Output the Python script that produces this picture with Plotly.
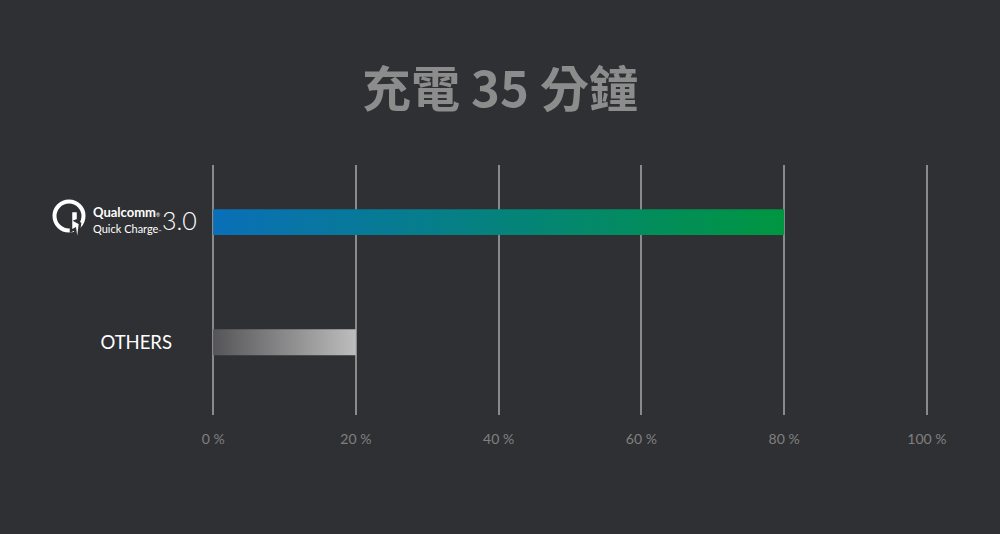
import plotly.graph_objects as go

# --------------------------------------------------
# data
# --------------------------------------------------
categories = ["Qualcomm Quick Charge 3.0", "OTHERS"]
values = [80, 20]
bar_scales = [
    [[0, "#0a6fb8"], [1, "#009640"]],
    [[0, "#555558"], [1, "#bdbdbd"]],
]
tick_vals = [0, 20, 40, 60, 80, 100]
tick_text = ["0 %", "20 %", "40 %", "60 %", "80 %", "100 %"]

BG = "#2f3033"
GRID = "#8a8a8a"

# plot area in pixels (x range padded by 0.3 units on both sides)
L, R, T, B = 211, 929, 165, 415


def px(x):
    return (x - L) / (R - L)


def py(y):
    return (B - y) / (B - T)


half = 0.108  # half bar thickness in y units

fig = go.Figure()

for i, (cat, v) in enumerate(zip(categories, values)):
    fig.add_trace(
        go.Scatter(
            x=[0, v, v, 0, 0],
            y=[i - half, i - half, i + half, i + half, i - half],
            mode="lines",
            fill="toself",
            fillgradient=dict(type="horizontal", colorscale=bar_scales[i]),
            line=dict(width=0),
            name=cat,
            hovertemplate=f"{cat}: {v} %<extra></extra>",
            showlegend=False,
        )
    )

# Qualcomm Quick Charge logo
bolt = "M {} {} L {} {} L {} {} L {} {} L {} {} L {} {} L {} {} L {} {} Z".format(
    px(71), py(211), px(78), py(211), px(78), py(220), px(75.5), py(221),
    px(80), py(223.5), px(77.3), py(245), px(75), py(229), px(71), py(231),
)
shapes = [
    dict(type="circle", xref="paper", yref="paper",
         x0=px(54.5), x1=px(83.5), y0=py(230.5), y1=py(201.5),
         line=dict(color="white", width=4)),
    dict(type="path", xref="paper", yref="paper", path=bolt,
         fillcolor="white", line=dict(color=BG, width=2.5)),
]

annotations = [
    dict(text="<b>Qualcomm</b><span style='font-size:5px'>®</span>", x=px(91), y=py(212),
         xref="paper", yref="paper", xanchor="left", yanchor="middle", showarrow=False,
         font=dict(family="Lato", size=13, color="white")),
    dict(text="Quick Charge<span style='font-size:4px'>™</span>", x=px(91), y=py(228),
         xref="paper", yref="paper", xanchor="left", yanchor="middle", showarrow=False,
         font=dict(family="Lato", size=11, color="white")),
    dict(text="3.0", x=px(160), y=py(220), xref="paper", yref="paper",
         xanchor="left", yanchor="middle", showarrow=False,
         font=dict(family="Lato", size=25, color="white", weight=300)),
]

fig.update_layout(
    width=1000,
    height=534,
    paper_bgcolor=BG,
    plot_bgcolor=BG,
    title=dict(
        text="充電 35 分鐘",
        x=0.5,
        xanchor="center",
        y=1 - 90 / 534,
        yanchor="middle",
        font=dict(family="Noto Sans CJK TC", size=49, color="#8c8c8c", weight=700),
    ),
    xaxis=dict(
        range=[-0.3, 100.3],
        tickvals=tick_vals,
        ticktext=tick_text,
        showgrid=True,
        gridcolor=GRID,
        gridwidth=1.5,
        zeroline=False,
        showline=False,
        ticklabelstandoff=14,
        tickfont=dict(family="Lato", size=14, color="#808080"),
        fixedrange=True,
    ),
    yaxis=dict(
        range=[1 + (B - 342.5) / 120, -(222 - T) / 120],
        tickvals=[0, 1],
        ticktext=["", "OTHERS"],
        showgrid=False,
        zeroline=False,
        showline=False,
        ticklabelstandoff=38,
        tickfont=dict(family="Lato", size=18.5, color="white"),
        fixedrange=True,
    ),
    shapes=shapes,
    annotations=annotations,
    margin=dict(l=L, r=1000 - R, t=T, b=534 - B),
)

fig.write_html(
    "out.html",
    config={"displayModeBar": False},
    post_script="document.body.style.margin='0';",
)
